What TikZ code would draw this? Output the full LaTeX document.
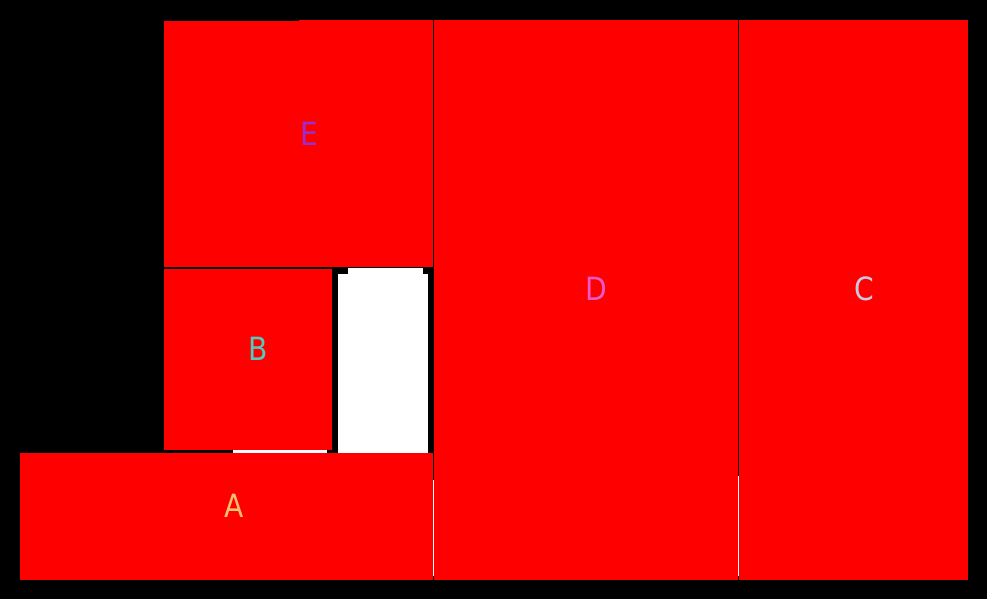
\documentclass[tikz,border=0pt]{standalone}
\usepackage{fontspec}
\setmainfont{DejaVu Sans}
\begin{document}
\begin{tikzpicture}[x=1pt,y=-1pt,
  box/.style={fill=red,draw=none,inner sep=0pt,outer sep=0pt,anchor=north west},
  lbl/.style={inner sep=0pt,outer sep=0pt,font=\fontsize{32}{32}\selectfont,xscale=0.88}]
\definecolor{cE}{RGB}{158,44,205}
\definecolor{cB}{RGB}{82,202,190}
\definecolor{cD}{RGB}{240,88,200}
\definecolor{cC}{RGB}{200,200,225}
\definecolor{cA}{RGB}{245,195,110}
\fill[black] (0,0) rectangle (987,599);
\useasboundingbox (0,0) rectangle (987,599);
% rectangles
\node[box,minimum width=269pt,minimum height=246pt] (E) at (164,21) {};
\fill[red] (299,20) rectangle (433,21.5);
\node[box,minimum width=304pt,minimum height=560pt] (D) at (434,20) {};
\node[box,minimum width=229pt,minimum height=560pt] (C) at (739,20) {};
\node[box,minimum width=168pt,minimum height=181pt] (B) at (164,269) {};
\node[box,minimum width=413pt,minimum height=127pt] (A) at (20,453) {};
% white slot
\node[fill=white,inner sep=0pt,outer sep=0pt,anchor=north west,minimum width=90pt,minimum height=185pt] (W) at (338,268) {};
\fill[black] (338,268) rectangle (348,274);
\fill[black] (423,268) rectangle (428,274);
\fill[white] (233,450) rectangle (327,453);
% thin white seams
\draw[white,line width=0.8pt] (433.5,480) -- (433.5,576);
\draw[white,line width=0.8pt] (738.5,476) -- (738.5,576);
% labels
\node[lbl,text=cE] (lE) at (309,133.5) {E};
\node[lbl,text=cB] (lB) at (258.5,349) {B};
\node[lbl,text=cD] (lD) at (596,289) {D};
\node[lbl,text=cC] (lC) at (864,289) {C};
\node[lbl,text=cA] (lA) at (234.5,505.5) {A};
\end{tikzpicture}
\end{document}
